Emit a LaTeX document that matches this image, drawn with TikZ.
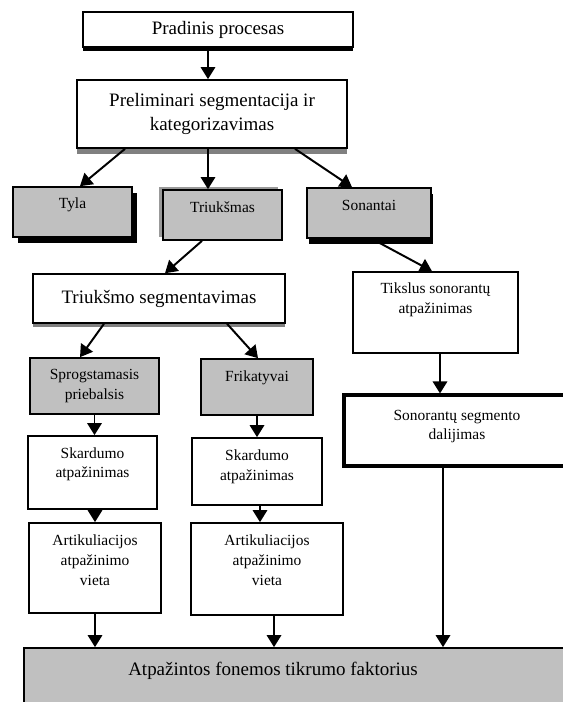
\documentclass[tikz,border=0pt]{standalone}
\usepackage{fontspec}
\setmainfont{Liberation Serif}
\usetikzlibrary{arrows.meta, calc, shadows}
\definecolor{silver}{HTML}{C0C0C0}
\tikzstyle{plain} = [rectangle, align=center, text centered, draw=black, fill=white,
                     line width=1.2pt, inner sep=2pt, font=\fontsize{11}{14}\selectfont]
\tikzstyle{big} = [plain, font=\fontsize{13.5}{16.5}\selectfont]
\tikzstyle{sort} = [plain, fill=silver]
\tikzstyle{arrow} = [-{Triangle[width=3.6mm, length=3mm]}, line width=1.4pt]

\begin{document}
\begin{tikzpicture}[x=0.025cm, y=-0.025cm]
    \useasboundingbox (0,0) rectangle (563,702);
    \clip (0,0) rectangle (563,702);

    \node[big, minimum width=6.75cm, minimum height=0.875cm,
          drop shadow={shadow xshift=0pt, shadow yshift=-3pt, fill=black, opacity=1}]
          (start) at (218,29.5) {Pradinis procesas};
    \node[big, minimum width=6.75cm, minimum height=1.7cm,
          drop shadow={shadow xshift=0pt, shadow yshift=-4pt, fill=gray, opacity=1}]
          (prelim) at (212,114) {Preliminari segmentacija ir\\kategorizavimas};

    \node[sort, minimum width=2.98cm, minimum height=1.25cm, text depth=12pt,
          drop shadow={shadow xshift=3.5pt, shadow yshift=-4pt, fill=black, opacity=1}]
          (tyla) at (72.5,212) {Tyla};
    \node[sort, minimum width=2.98cm, minimum height=1.25cm, text depth=11pt,
          drop shadow={shadow xshift=-3pt, shadow yshift=2pt, fill=gray!80, opacity=1}]
          (triuk) at (222.5,215) {Triukšmas};
    \node[sort, minimum width=3.1cm, minimum height=1.25cm, text depth=11pt,
          drop shadow={shadow xshift=1.5pt, shadow yshift=-4pt, fill=black, opacity=1}]
          (sonan) at (369,213) {Sonantai};

    \node[big, minimum width=6.3cm, minimum height=1.22cm,
          drop shadow={shadow xshift=0pt, shadow yshift=-3pt, fill=gray, opacity=1}]
          (tseg) at (159,298.5) {Triukšmo segmentavimas};
    \node[plain, minimum width=4.125cm, minimum height=2.025cm, text depth=20pt]
          (tiksl) at (435.5,312.5) {Tikslus sonorantų\\atpažinimas};

    \node[sort, minimum width=3.225cm, minimum height=1.4cm] (sprog) at (94.5,386) {Sprogstamasis\\priebalsis};
    \node[sort, minimum width=2.8cm, minimum height=1.4cm, text depth=15pt] (frik) at (257,387) {Frikatyvai};
    \node[plain, minimum width=5.65cm, minimum height=1.775cm, text depth=8pt, line width=2.2pt]
          (sonseg) at (457,430.5) {Sonorantų segmento\\dalijimas};

    \node[plain, minimum width=3.225cm, minimum height=1.825cm, text depth=14pt]
          (skard1) at (92.5,472.5) {Skardumo\\atpažinimas};
    \node[plain, minimum width=3.25cm, minimum height=1.675cm, text depth=9.5pt]
          (skard2) at (257,471.5) {Skardumo\\atpažinimas};

    \node[plain, minimum width=3.3cm, minimum height=2.25cm, text depth=11pt]
          (artik1) at (95,568) {Artikuliacijos\\atpažinimo\\vieta};
    \node[plain, minimum width=3.8cm, minimum height=2.3cm, text depth=12.4pt]
          (artik2) at (267,569) {Artikuliacijos\\atpažinimo\\vieta};

    \node[big, fill=silver, minimum width=13.65cm, minimum height=1.55cm, text depth=15pt]
          (final) at (297,679) {Atpažintos fonemos tikrumo faktorius\hspace*{1.2cm}};

    % arrows
    \draw[arrow] ($(start.south)+(-10,0)$) -- ($(prelim.north)+(-4,0)$);
    \draw[arrow] ($(prelim.south)+(-87,0)$) -- ($(tyla.north)+(7.5,0)$);
    \draw[arrow] ($(prelim.south)+(-4,0)$) -- ($(triuk.north)+(-14.5,0)$);
    \draw[arrow] ($(prelim.south)+(83,0)$) -- ($(sonan.north)+(-17,0)$);
    \draw[arrow] ($(triuk.south)+(-20.5,0)$) -- ($(tseg.north)+(6,0)$);
    \draw[arrow] ($(sonan.south)+(3,0)$) -- ($(tiksl.north)+(-3.5,0)$);
    \draw[arrow] ($(tseg.south)+(-55,0)$) -- ($(sprog.north)+(-14.5,0)$);
    \draw[arrow] ($(tseg.south)+(68,0)$) -- ($(frik.north)+(1,0)$);
    \draw[arrow] ($(tiksl.south)+(4.5,0)$) -- ($(sonseg.north)+(-17,0)$);
    \draw[arrow] (sprog.south) -- (sprog.south |- skard1.north);
    \draw[arrow] (frik.south) -- (frik.south |- skard2.north);
    \draw[arrow] (artik1.north |- skard1.south) -- (artik1.north);
    \draw[arrow] ($(skard2.south)+(3,0)$) -- ($(artik2.north)+(-7,0)$);
    \draw[arrow] (artik1.south) -- (artik1.south |- final.north);
    \draw[arrow] ($(artik2.south)+(7,0)$) -- ($(final.north)+(-23,0)$);
    \draw[arrow] ($(sonseg.south)+(-14,0)$) -- ($(final.north)+(146,0)$);
\end{tikzpicture}
\end{document}
